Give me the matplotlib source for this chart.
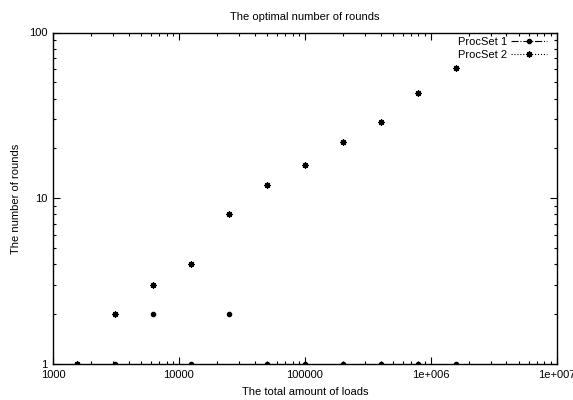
import matplotlib
matplotlib.use("Agg")
import matplotlib.pyplot as plt
from matplotlib.lines import Line2D
from matplotlib.ticker import LogLocator, NullFormatter

plt.rcParams['font.family'] = ['Liberation Sans', 'DejaVu Sans']

loads = [1562.5, 3125, 6250, 12500, 25000, 50000, 100000, 200000, 400000, 800000, 1600000]
procset1 = [1, 1, 2, 1, 2, 1, 1, 1, 1, 1, 1]
procset2 = [1, 2, 3, 4, 8, 12, 16, 22, 29, 43, 61]
series_labels = ["ProcSet 1", "ProcSet 2"]
xtick_vals = [1000, 10000, 100000, 1000000, 10000000]
xtick_labels = ["1000", "10000", "100000", "1e+006", "1e+007"]
ytick_vals = [1, 10, 100]
ytick_labels = ["1", "10", "100"]

fig = plt.figure(figsize=(5.73, 4.00), dpi=100)
ax = fig.add_axes([53/573, 1-364.3/400, (556.5-53)/573, (364.3-32.5)/400])

star = (8, 2, 0)
ax.plot(loads, procset1, linestyle='none', marker='o', markersize=3.0, color='black')
ax.plot(loads, procset2, linestyle='none', marker=star, markersize=4.5, markeredgewidth=0.9, color='black')

ax.set_xscale('log')
ax.set_yscale('log')
ax.set_xlim(1000, 1e7)
ax.set_ylim(1, 100)
ax.set_xticks(xtick_vals)
ax.set_xticklabels(xtick_labels)
ax.set_yticks(ytick_vals)
ax.set_yticklabels(ytick_labels)
ax.xaxis.set_minor_locator(LogLocator(base=10, subs=range(2, 10)))
ax.yaxis.set_minor_locator(LogLocator(base=10, subs=range(2, 10)))
ax.xaxis.set_minor_formatter(NullFormatter())
ax.yaxis.set_minor_formatter(NullFormatter())
ax.tick_params(which='both', direction='in', top=True, right=True, labelsize=8, width=0.8, pad=4)
ax.tick_params(which='major', length=5)
ax.tick_params(which='minor', length=2.5)
for s in ax.spines.values():
    s.set_linewidth(1.0)

ax.set_title("The optimal number of rounds", fontsize=8, pad=9)
ax.set_xlabel("The total amount of loads", fontsize=8, labelpad=5)
ax.set_ylabel("The number of rounds", fontsize=8, labelpad=6)

handles = [
    Line2D([], [], color='black', linestyle='-.', linewidth=0.8, marker='o', markersize=3.0),
    Line2D([], [], color='black', linestyle=':', linewidth=0.8, marker=star, markersize=4.5, markeredgewidth=0.9),
]
ax.legend(handles, series_labels, loc='upper right', frameon=False, markerfirst=False,
          fontsize=8, handlelength=3.2, borderaxespad=0.3, labelspacing=0.3, handletextpad=0.4,
          numpoints=1, borderpad=0.1, bbox_to_anchor=(0.99, 1.0))

fig.savefig("out.png", dpi=100)
